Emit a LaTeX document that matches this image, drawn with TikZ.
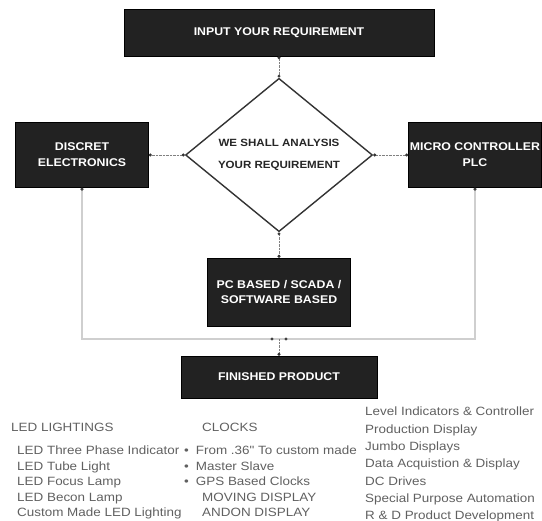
\documentclass[tikz,border=0pt]{standalone}
\usepackage{fontspec}
\setmainfont{Liberation Sans}
\newfontfamily\blockfont[FakeStretch=1.1]{Liberation Sans}
\newfontfamily\listfont[FakeStretch=1.12]{Liberation Sans}
\usepackage{tikz}
\usetikzlibrary{arrows.meta,shapes.geometric,positioning}
\definecolor{blockgray}{HTML}{222222}
\definecolor{textgray}{HTML}{606060}
\definecolor{loopgray}{HTML}{CFCFCF}
\tikzset{
    block/.style = {draw=black, fill=blockgray, rectangle, text=white,
        inner sep=1pt, align=center,
        font=\blockfont\bfseries\fontsize{11.2}{16}\selectfont},
    decision/.style = {draw=black!80, diamond, line width=1.4pt, fill=white,
        minimum width=187pt, minimum height=150pt, inner sep=0pt, align=center,
        text=black!85, font=\blockfont\bfseries\fontsize{10.5}{22}\selectfont},
    link/.style = {draw=black!50, densely dotted,
        {Circle[length=3pt,color=black!80]}-{Circle[length=3pt,color=black!80]}},
    feedback/.style = {draw=loopgray, line width=1.3pt},
    listtext/.style = {anchor=north west, inner sep=0pt, align=left, text=textgray,
        font=\listfont\fontsize{12}{15.5}\selectfont}
}

\begin{document}
\begin{tikzpicture}[auto, x=1pt, y=1pt, node distance=2cm, >=Latex]
    \useasboundingbox (0,0) rectangle (542,-521);
    \node [block, minimum width=310pt, minimum height=47pt] at (279,-32.5) (input) {INPUT YOUR REQUIREMENT};
    \node [decision, below of=input, node distance=122.5pt] (analyse) {WE SHALL ANALYSIS\\ YOUR REQUIREMENT};
    \draw [link] (input) -- (analyse);
    \node [block, left of=analyse, node distance=197pt, minimum width=133pt, minimum height=65pt] (discret) {DISCRET\\ ELECTRONICS};
    \draw [link] (discret) -- (analyse);
    \node [block, right of=analyse, node distance=196pt, minimum width=133pt, minimum height=65pt] (micro) {MICRO CONTROLLER\\ PLC};
    \draw [link] (analyse) -- (micro);
    \node [block, below of=analyse, node distance=137pt, minimum width=143pt, minimum height=68pt] (pc) {PC BASED / SCADA /\\ SOFTWARE BASED};
    \draw [link] (analyse) -- (pc);
    \node [block, below of=pc, node distance=85pt, minimum width=196pt, minimum height=42pt] (fin) {FINISHED PRODUCT};
    \coordinate (loopmid) at (279,-339);
    \draw [feedback, {Circle[length=3pt,color=black!75]}-{Circle[length=3pt,color=black!75]}] (discret.south) |- (loopmid) -| (micro.south);
    \fill [black!75] (272,-339) circle (1.7pt) (286,-339) circle (1.7pt);
    \draw [link, -{Circle[length=3pt,color=black!80]}] (loopmid) -- (fin);
    % product lists
    \node [listtext] at (11,-423) (ledhead) {LED LIGHTINGS};
    \node [listtext] at (17,-446) (ledlist) {LED Three Phase Indicator\\ LED Tube Light\\ LED Focus Lamp\\ LED Becon Lamp\\ Custom Made LED Lighting};
    \node [listtext] at (202,-423) (clockhead) {CLOCKS};
    \node [listtext] at (184,-446) (clocklist) {•\hspace{7pt}From .36" To custom made\\ •\hspace{7pt}Master Slave\\ •\hspace{7pt}GPS Based Clocks\\ \hspace*{18pt}MOVING DISPLAY\\ \hspace*{18pt}ANDON DISPLAY};
    \node [listtext, font=\listfont\fontsize{12}{17.3}\selectfont] at (365,-407) (servlist) {Level Indicators \& Controller\\ Production Display\\ Jumbo Displays\\ Data Acquistion \& Display\\ DC Drives\\ Special Purpose Automation\\ R \& D Product Development};
\end{tikzpicture}
\end{document}
